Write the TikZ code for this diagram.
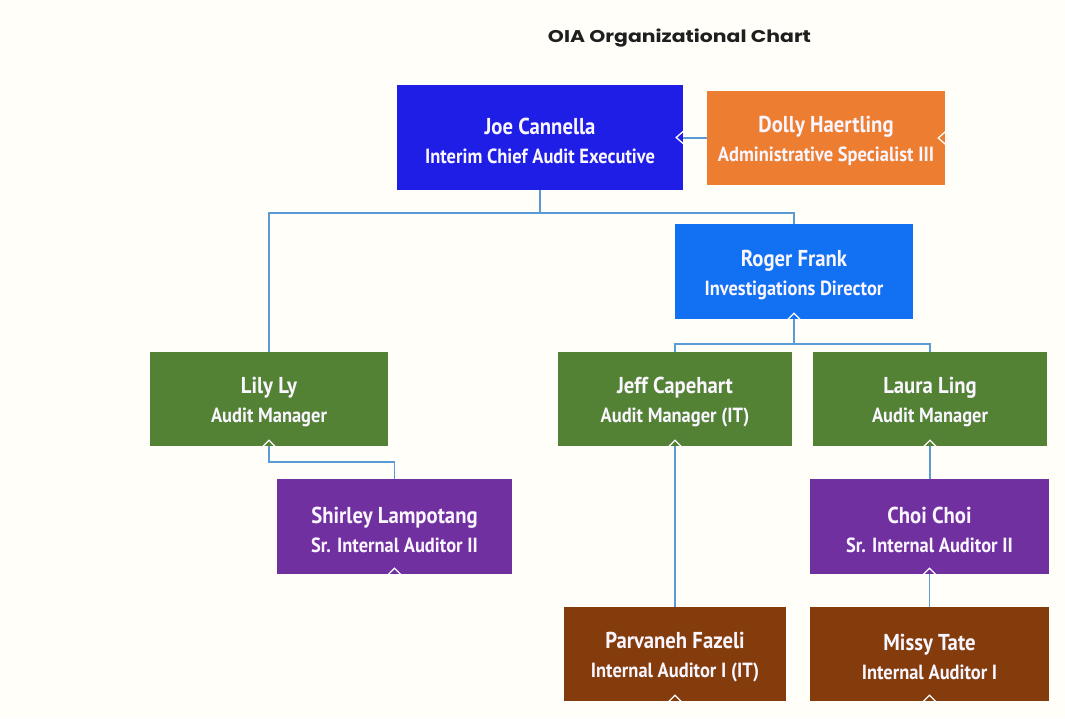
\documentclass[tikz,border=0pt]{standalone}
\usepackage{fontspec}
\usetikzlibrary{calc}
\newfontfamily\boxfont[FakeStretch=0.9]{PT Sans}
\newfontfamily\titlefont[FakeStretch=1.2]{Poppins}
\definecolor{bgcream}{HTML}{FFFEF8}
\definecolor{connblue}{HTML}{5B9BD5}
\definecolor{ceoblue}{HTML}{1E1EE6}
\definecolor{dirblue}{HTML}{1270F2}
\definecolor{mgrgreen}{HTML}{548235}
\definecolor{srpurple}{HTML}{7030A0}
\definecolor{jrbrown}{HTML}{843C0C}
\definecolor{adminorange}{HTML}{ED7D31}
\definecolor{boxtext}{HTML}{FAF6FF}
\tikzset{
  x=1pt, y=-1pt,
  person/.style={fill=#1, draw=none, text=boxtext, align=center, inner sep=0pt,
    font=\boxfont\bfseries\fontsize{23}{29}\selectfont},
  conn/.style={draw=connblue, line width=1.8pt},
  marker/.style={draw=white, line width=1.3pt, line join=miter},
}
% name over job title inside a box
\newcommand{\staff}[2]{\rule{0pt}{23pt}#1\\{\fontsize{20.5}{29}\selectfont #2}}
% small collapse marks drawn at box edges
\newcommand{\markup}[1]{\draw[marker] ($(#1.south)+(-7,1)$) -- ($(#1.south)+(0,-6)$) -- ($(#1.south)+(7,1)$);}
\newcommand{\markleft}[1]{\draw[marker] ($(#1.east)+(1,-7)$) -- ($(#1.east)+(-7,0)$) -- ($(#1.east)+(1,7)$);}
\begin{document}
\begin{tikzpicture}
\fill[bgcream] (0,0) rectangle (1065,718);
\useasboundingbox (0,0) rectangle (1065,718);

\node[font=\titlefont\bfseries\fontsize{17}{20}\selectfont, text=black!88] (title) at (679.5,38) {OIA Organizational Chart};

\node[person=ceoblue, minimum width=286, minimum height=105] (joe) at (540,137.5)
  {\staff{Joe Cannella}{Interim Chief Audit Executive}};
\node[person=adminorange, minimum width=238, minimum height=94] (dolly) at (826,138)
  {\staff{Dolly Haertling}{Administrative Specialist III}};
\node[person=dirblue, minimum width=238, minimum height=95] (roger) at (794,271.5)
  {\staff{Roger Frank}{Investigations Director}};
\node[person=mgrgreen, minimum width=238, minimum height=94] (lily) at (269,399)
  {\staff{Lily Ly}{Audit Manager}};
\node[person=mgrgreen, minimum width=234, minimum height=94] (jeff) at (675,399)
  {\staff{Jeff Capehart}{Audit Manager (IT)}};
\node[person=mgrgreen, minimum width=234, minimum height=94] (laura) at (930,399)
  {\staff{Laura Ling}{Audit Manager}};
\node[person=srpurple, minimum width=235, minimum height=95] (shirley) at (394.5,526.5)
  {\staff{Shirley Lampotang}{Sr. Internal Auditor II}};
\node[person=srpurple, minimum width=239, minimum height=95] (choi) at (929.5,526.5)
  {\staff{Choi Choi}{Sr. Internal Auditor II}};
\node[person=jrbrown, minimum width=222, minimum height=94] (parv) at (675,654)
  {\staff{Parvaneh Fazeli}{Internal Auditor I (IT)}};
\node[person=jrbrown, minimum width=239, minimum height=94] (missy) at (929.5,654)
  {\staff{Missy Tate}{Internal Auditor I}};

% reporting lines
\draw[conn] (joe.south) -- ++(0,23) -| (lily.north);
\draw[conn] (joe.south) -- ++(0,23) -| (roger.north);
\draw[conn] (dolly.west) -- (dolly.west -| joe.east);
\draw[conn] (roger.south) -- ++(0,25) -| (jeff.north);
\draw[conn] (roger.south) -- ++(0,25) -| (laura.north);
\draw[conn] (lily.south) -- ++(0,16) -| (shirley.north);
\draw[conn] (jeff.south) -- (parv.north);
\draw[conn] (laura.south) -- (laura.south |- choi.north);
\draw[conn] (choi.south) -- (choi.south |- missy.north);

% collapse marks
\markleft{joe}
\markleft{dolly}
\markup{roger}
\markup{lily}
\markup{jeff}
\markup{laura}
\markup{shirley}
\markup{choi}
\markup{parv}
\markup{missy}
\end{tikzpicture}
\end{document}
